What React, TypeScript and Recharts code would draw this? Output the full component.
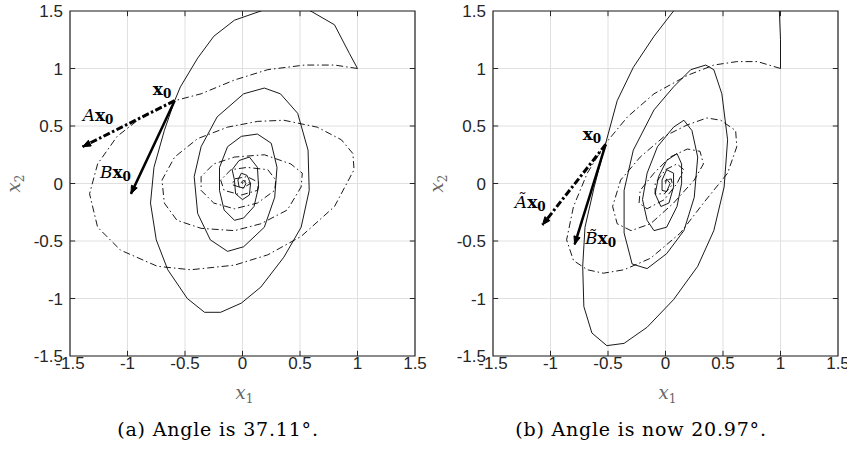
import React from 'react';
import { ComposedChart, Line, XAxis, YAxis, CartesianGrid, ReferenceArea, ReferenceDot, ReferenceLine, Label } from 'recharts';

type Pt = { x: number; y: number };

const TICKS = [-1.5, -1, -0.5, 0, 0.5, 1, 1.5];
const TICK_LEN = 0.045;

// (a) trajectories
const solidA: Pt[] = [
  { x: 1, y: 1 }, { x: 0.93, y: 1.13 }, { x: 0.8, y: 1.38 }, { x: 0.61, y: 1.49 }, { x: 0.4, y: 1.6 },
  { x: 0.16, y: 1.5 }, { x: -0.07, y: 1.42 }, { x: -0.25, y: 1.28 }, { x: -0.39, y: 1.09 }, { x: -0.54, y: 0.84 },
  { x: -0.59, y: 0.72 }, { x: -0.68, y: 0.46 }, { x: -0.77, y: 0.14 }, { x: -0.8, y: -0.17 }, { x: -0.75, y: -0.49 },
  { x: -0.65, y: -0.75 }, { x: -0.48, y: -1.0 }, { x: -0.33, y: -1.12 }, { x: -0.19, y: -1.12 }, { x: -0.01, y: -1.04 },
  { x: 0.16, y: -0.9 }, { x: 0.36, y: -0.64 }, { x: 0.51, y: -0.38 }, { x: 0.58, y: -0.06 }, { x: 0.57, y: 0.29 },
  { x: 0.48, y: 0.61 }, { x: 0.33, y: 0.78 }, { x: 0.19, y: 0.83 }, { x: 0.01, y: 0.78 }, { x: -0.22, y: 0.58 },
  { x: -0.36, y: 0.32 }, { x: -0.42, y: 0.06 }, { x: -0.39, y: -0.26 }, { x: -0.28, y: -0.49 }, { x: -0.13, y: -0.59 },
  { x: 0.01, y: -0.55 }, { x: 0.19, y: -0.38 }, { x: 0.28, y: -0.12 }, { x: 0.3, y: 0.14 }, { x: 0.25, y: 0.35 },
  { x: 0.13, y: 0.43 }, { x: -0.01, y: 0.41 }, { x: -0.13, y: 0.32 }, { x: -0.2, y: 0.14 }, { x: -0.2, y: -0.06 },
  { x: -0.16, y: -0.23 }, { x: -0.07, y: -0.32 }, { x: 0.01, y: -0.3 }, { x: 0.1, y: -0.2 }, { x: 0.14, y: -0.03 },
  { x: 0.13, y: 0.14 }, { x: 0.06, y: 0.23 }, { x: -0.03, y: 0.2 }, { x: -0.09, y: 0.12 }, { x: -0.07, y: 0.03 },
  { x: -0.06, y: -0.09 }, { x: 0, y: -0.14 }, { x: 0.06, y: -0.1 }, { x: 0.07, y: 0 }, { x: 0.04, y: 0.07 },
  { x: -0.01, y: 0.09 }, { x: -0.04, y: 0.03 }, { x: -0.03, y: -0.03 }, { x: 0.01, y: -0.04 }, { x: 0.03, y: 0 },
  { x: 0.01, y: 0.03 }, { x: -0.01, y: 0.01 }, { x: 0, y: 0 },
];

const dashA: Pt[] = [
  { x: 1, y: 1 }, { x: 0.8, y: 1.03 }, { x: 0.54, y: 1.03 }, { x: 0.22, y: 0.99 }, { x: -0.07, y: 0.9 },
  { x: -0.36, y: 0.78 }, { x: -0.59, y: 0.72 }, { x: -0.86, y: 0.59 }, { x: -1.09, y: 0.41 }, { x: -1.26, y: 0.17 },
  { x: -1.33, y: -0.09 }, { x: -1.26, y: -0.38 }, { x: -1.06, y: -0.58 }, { x: -0.74, y: -0.72 }, { x: -0.45, y: -0.75 },
  { x: -0.07, y: -0.71 }, { x: 0.22, y: -0.62 }, { x: 0.51, y: -0.46 }, { x: 0.8, y: -0.2 }, { x: 0.97, y: 0.12 },
  { x: 0.96, y: 0.26 }, { x: 0.86, y: 0.38 }, { x: 0.65, y: 0.49 }, { x: 0.36, y: 0.55 }, { x: 0.13, y: 0.54 },
  { x: -0.13, y: 0.49 }, { x: -0.39, y: 0.39 }, { x: -0.59, y: 0.23 }, { x: -0.7, y: 0.03 }, { x: -0.68, y: -0.17 },
  { x: -0.57, y: -0.32 }, { x: -0.36, y: -0.39 }, { x: -0.07, y: -0.41 }, { x: 0.16, y: -0.35 }, { x: 0.39, y: -0.23 },
  { x: 0.51, y: -0.03 }, { x: 0.52, y: 0.09 }, { x: 0.42, y: 0.17 }, { x: 0.19, y: 0.25 }, { x: -0.07, y: 0.23 },
  { x: -0.25, y: 0.17 }, { x: -0.36, y: 0.06 }, { x: -0.36, y: -0.06 }, { x: -0.25, y: -0.17 }, { x: -0.07, y: -0.22 },
  { x: 0.13, y: -0.17 }, { x: 0.28, y: -0.06 }, { x: 0.29, y: 0.03 }, { x: 0.22, y: 0.12 }, { x: 0.04, y: 0.14 },
  { x: -0.1, y: 0.12 }, { x: -0.19, y: 0.03 }, { x: -0.16, y: -0.06 }, { x: -0.01, y: -0.1 }, { x: 0.13, y: -0.06 },
  { x: 0.14, y: 0.01 }, { x: 0.04, y: 0.06 }, { x: -0.07, y: 0.04 }, { x: -0.09, y: -0.01 }, { x: 0, y: -0.04 },
  { x: 0.07, y: 0 }, { x: 0.01, y: 0.03 }, { x: 0, y: 0 },
];

// (b) trajectories
const solidB: Pt[] = [
  { x: 1, y: 1 }, { x: 1.0, y: 1.25 }, { x: 0.99, y: 1.5 }, { x: 0.95, y: 1.75 }, { x: 0.6, y: 1.85 },
  { x: 0.25, y: 1.7 }, { x: 0.07, y: 1.5 }, { x: -0.1, y: 1.28 }, { x: -0.28, y: 1.01 }, { x: -0.42, y: 0.72 },
  { x: -0.52, y: 0.35 }, { x: -0.62, y: -0.03 }, { x: -0.7, y: -0.38 }, { x: -0.72, y: -0.72 }, { x: -0.71, y: -1.07 },
  { x: -0.64, y: -1.3 }, { x: -0.51, y: -1.41 }, { x: -0.36, y: -1.39 }, { x: -0.16, y: -1.25 }, { x: 0.07, y: -1.01 },
  { x: 0.28, y: -0.72 }, { x: 0.42, y: -0.41 }, { x: 0.51, y: -0.03 }, { x: 0.54, y: 0.38 }, { x: 0.49, y: 0.78 },
  { x: 0.42, y: 0.99 }, { x: 0.35, y: 1.03 }, { x: 0.22, y: 0.99 }, { x: 0.07, y: 0.84 }, { x: -0.1, y: 0.64 },
  { x: -0.28, y: 0.29 }, { x: -0.36, y: -0.06 }, { x: -0.36, y: -0.43 }, { x: -0.29, y: -0.7 }, { x: -0.16, y: -0.74 },
  { x: 0.01, y: -0.61 }, { x: 0.16, y: -0.41 }, { x: 0.25, y: -0.12 }, { x: 0.28, y: 0.23 }, { x: 0.23, y: 0.46 },
  { x: 0.16, y: 0.55 }, { x: 0.07, y: 0.49 }, { x: -0.07, y: 0.32 }, { x: -0.16, y: 0.09 }, { x: -0.2, y: -0.14 },
  { x: -0.16, y: -0.32 }, { x: -0.1, y: -0.41 }, { x: 0.01, y: -0.38 }, { x: 0.1, y: -0.2 }, { x: 0.14, y: 0 },
  { x: 0.14, y: 0.17 }, { x: 0.1, y: 0.26 }, { x: 0.01, y: 0.2 }, { x: -0.06, y: 0.06 }, { x: -0.09, y: -0.09 },
  { x: -0.04, y: -0.2 }, { x: 0.03, y: -0.17 }, { x: 0.07, y: -0.03 }, { x: 0.07, y: 0.09 }, { x: 0.01, y: 0.12 },
  { x: -0.03, y: 0.03 }, { x: -0.03, y: -0.06 }, { x: 0.01, y: -0.07 }, { x: 0.04, y: 0 }, { x: 0.01, y: 0.04 },
  { x: 0, y: 0 },
];

const dashB: Pt[] = [
  { x: 1, y: 1 }, { x: 0.8, y: 1.06 }, { x: 0.62, y: 1.06 }, { x: 0.42, y: 1.03 }, { x: 0.19, y: 0.94 },
  { x: -0.1, y: 0.78 }, { x: -0.33, y: 0.58 }, { x: -0.52, y: 0.35 }, { x: -0.68, y: 0.09 }, { x: -0.8, y: -0.2 },
  { x: -0.86, y: -0.49 }, { x: -0.8, y: -0.67 }, { x: -0.68, y: -0.75 }, { x: -0.54, y: -0.78 }, { x: -0.36, y: -0.75 },
  { x: -0.13, y: -0.65 }, { x: 0.13, y: -0.43 }, { x: 0.33, y: -0.17 }, { x: 0.54, y: 0.09 }, { x: 0.62, y: 0.32 },
  { x: 0.61, y: 0.46 }, { x: 0.48, y: 0.55 }, { x: 0.36, y: 0.57 }, { x: 0.19, y: 0.51 }, { x: -0.01, y: 0.41 },
  { x: -0.22, y: 0.23 }, { x: -0.39, y: 0.03 }, { x: -0.46, y: -0.2 }, { x: -0.42, y: -0.35 }, { x: -0.3, y: -0.41 },
  { x: -0.13, y: -0.35 }, { x: 0.07, y: -0.17 }, { x: 0.25, y: 0.03 }, { x: 0.33, y: 0.17 }, { x: 0.3, y: 0.28 },
  { x: 0.19, y: 0.3 }, { x: 0.04, y: 0.23 }, { x: -0.1, y: 0.09 }, { x: -0.22, y: -0.06 }, { x: -0.23, y: -0.17 },
  { x: -0.16, y: -0.22 }, { x: -0.01, y: -0.14 }, { x: 0.1, y: 0 }, { x: 0.16, y: 0.12 }, { x: 0.1, y: 0.17 },
  { x: 0, y: 0.12 }, { x: -0.09, y: 0 }, { x: -0.09, y: -0.09 }, { x: -0.01, y: -0.09 }, { x: 0.06, y: -0.01 },
  { x: 0.05, y: 0.04 }, { x: 0, y: 0.03 }, { x: -0.01, y: 0 }, { x: 0, y: 0 },
];

// arrows: x0 -> tip
const x0A: Pt = { x: -0.59, y: 0.72 };
const axA: Pt = { x: -1.39, y: 0.32 };
const bxA: Pt = { x: -0.97, y: -0.09 };
const x0B: Pt = { x: -0.52, y: 0.34 };
const axB: Pt = { x: -1.07, y: -0.36 };
const bxB: Pt = { x: -0.79, y: -0.53 };

const SERIF = '"DejaVu Serif", "Liberation Serif", serif';
const SANS = '"Liberation Sans", Arial, sans-serif';

const makeArrowDot = (from: Pt, to: Pt) => (props: any) => {
  const { cx, cy, index } = props;
  if (index !== 1 || cx == null) return <g key={`d-${index}`} />;
  const ang = Math.atan2(-(to.y - from.y), to.x - from.x);
  const L = 8;
  const W = 3.2;
  const c = Math.cos(ang);
  const s = Math.sin(ang);
  const bx = cx - L * c;
  const by = cy - L * s;
  const pts = `${cx},${cy} ${bx - W * s},${by + W * c} ${bx + W * s},${by - W * c}`;
  return <polygon key={`d-${index}`} points={pts} fill="#000" stroke="#000" strokeWidth={1} />;
};

const mathLabel = (parts: { t: string; italic?: boolean; bold?: boolean; sub?: boolean }[]) => (props: any) => {
  const { cx, cy } = props;
  if (cx == null) return <g />;
  return (
    <text x={cx} y={cy} fontFamily={SERIF} fontSize={17} fill="#000">
      {parts.map((p, i) => (
        <tspan
          key={i}
          fontStyle={p.italic ? 'italic' : 'normal'}
          fontWeight={p.bold ? 'bold' : 'normal'}
          fontSize={p.sub ? 12 : 17}
          dy={p.sub ? 3 : i > 0 && parts[i - 1].sub ? -3 : 0}
        >
          {p.t}
        </tspan>
      ))}
    </text>
  );
};

const x1Label = (props: any) => {
  const vb = props.viewBox;
  return (
    <text x={vb.x + vb.width / 2 - 7} y={vb.y + 43} fontFamily={SERIF} fontSize={18} fill="#666" fontStyle="italic">
      x<tspan fontSize={12} dy={4} fontStyle="normal">1</tspan>
    </text>
  );
};

const x2Label = (props: any) => {
  const vb = props.viewBox;
  const cx = 20;
  const cy = vb.y + vb.height / 2;
  return (
    <text x={cx} y={cy} transform={`rotate(-90 ${cx} ${cy})`} textAnchor="middle" fontFamily={SERIF} fontSize={18} fill="#666" fontStyle="italic">
      x<tspan fontSize={12} dy={4} fontStyle="normal">2</tspan>
    </text>
  );
};

const XTick = (props: any) => {
  const { x, y, payload } = props;
  return (
    <text x={x} y={y + 13} textAnchor="middle" fontFamily={SANS} fontSize={17} fill="#262626">
      {payload.value}
    </text>
  );
};

const YTick = (props: any) => {
  const { x, y, payload } = props;
  return (
    <text x={x} y={y + 6} textAnchor="end" fontFamily={SANS} fontSize={17} fill="#262626">
      {payload.value}
    </text>
  );
};

// small inward tick marks on all four sides of the box
const tickMarks = TICKS.slice(1, -1).flatMap((t) => [
  { k: `b${t}`, seg: [{ x: t, y: -1.5 }, { x: t, y: -1.5 + TICK_LEN }] },
  { k: `t${t}`, seg: [{ x: t, y: 1.5 }, { x: t, y: 1.5 - TICK_LEN }] },
  { k: `l${t}`, seg: [{ x: -1.5, y: t }, { x: -1.5 + TICK_LEN, y: t }] },
  { k: `r${t}`, seg: [{ x: 1.5, y: t }, { x: 1.5 - TICK_LEN, y: t }] },
]);

interface IPanelProps {
  solid: Pt[];
  dash: Pt[];
  x0: Pt;
  ax: Pt;
  bx: Pt;
  x0Pos: Pt;
  axPos: Pt;
  bxPos: Pt;
  tilde: boolean;
}

const Panel: React.FC<IPanelProps> = ({ solid, dash, x0, ax, bx, x0Pos, axPos, bxPos, tilde }) => (
  <ComposedChart width={445} height={405} margin={{ top: 11, right: 30, left: 20, bottom: 4 }}>
    <CartesianGrid stroke="#e0e0e0" strokeWidth={1} />
    <XAxis
      type="number"
      dataKey="x"
      domain={[-1.5, 1.5]}
      ticks={TICKS}
      allowDataOverflow
      height={45}
      tickLine={false}
      tickSize={0}
      tickMargin={0}
      axisLine={false}
      tick={<XTick />}
      interval={0}
    >
      <Label content={x1Label} />
    </XAxis>
    <YAxis
      type="number"
      dataKey="y"
      domain={[-1.5, 1.5]}
      ticks={TICKS}
      allowDataOverflow
      width={50}
      tickLine={false}
      tickSize={4}
      tickMargin={3}
      axisLine={false}
      tick={<YTick />}
      interval={0}
    >
      <Label content={x2Label} />
    </YAxis>
    {tickMarks.map((m) => (
      <ReferenceLine key={m.k} segment={m.seg} stroke="#262626" strokeWidth={1} />
    ))}
    <ReferenceArea x1={-1.5} x2={1.5} y1={-1.5} y2={1.5} fill="none" stroke="#262626" strokeWidth={1.2} />
    <Line data={dash} dataKey="y" type="linear" stroke="#000" strokeWidth={0.9} strokeDasharray="7 3 1.5 3" dot={false} isAnimationActive={false} />
    <Line data={solid} dataKey="y" type="linear" stroke="#000" strokeWidth={0.9} dot={false} isAnimationActive={false} />
    <Line data={[x0, ax]} dataKey="y" type="linear" stroke="#000" strokeWidth={3} strokeDasharray="7 2.5 2.5 2.5" dot={makeArrowDot(x0, ax)} isAnimationActive={false} />
    <Line data={[x0, bx]} dataKey="y" type="linear" stroke="#000" strokeWidth={2.5} dot={makeArrowDot(x0, bx)} isAnimationActive={false} />
    <ReferenceDot x={x0Pos.x} y={x0Pos.y} r={0} shape={mathLabel([{ t: 'x', bold: true }, { t: '0', bold: true, sub: true }])} />
    <ReferenceDot
      x={axPos.x}
      y={axPos.y}
      r={0}
      shape={mathLabel([{ t: tilde ? 'A\u0303' : 'A', italic: true }, { t: 'x', bold: true }, { t: '0', bold: true, sub: true }])}
    />
    <ReferenceDot
      x={bxPos.x}
      y={bxPos.y}
      r={0}
      shape={mathLabel([{ t: tilde ? 'B\u0303' : 'B', italic: true }, { t: 'x', bold: true }, { t: '0', bold: true, sub: true }])}
    />
  </ComposedChart>
);

const captionStyle: React.CSSProperties = {
  position: 'absolute',
  top: 418,
  width: 420,
  textAlign: 'center',
  fontFamily: SERIF,
  fontSize: 19,
  letterSpacing: 0.8,
  color: '#000',
};

export default function App() {
  return (
    <div style={{ position: 'absolute', left: 0, top: 0, width: 847, height: 449, background: '#fff', overflow: 'hidden' }}>
      <div style={{ position: 'absolute', left: 0, top: 0 }}>
        <Panel
          solid={solidA}
          dash={dashA}
          x0={x0A}
          ax={axA}
          bx={bxA}
          x0Pos={{ x: -0.78, y: 0.77 }}
          axPos={{ x: -1.39, y: 0.54 }}
          bxPos={{ x: -1.24, y: 0.05 }}
          tilde={false}
        />
      </div>
      <div style={{ position: 'absolute', left: 423, top: 0 }}>
        <Panel
          solid={solidB}
          dash={dashB}
          x0={x0B}
          ax={axB}
          bx={bxB}
          x0Pos={{ x: -0.72, y: 0.38 }}
          axPos={{ x: -1.31, y: -0.21 }}
          bxPos={{ x: -0.7, y: -0.53 }}
          tilde={true}
        />
      </div>
      <div style={{ ...captionStyle, left: 8 }}>(a) Angle is 37.11°.</div>
      <div style={{ ...captionStyle, left: 431 }}>(b) Angle is now 20.97°.</div>
    </div>
  );
}
